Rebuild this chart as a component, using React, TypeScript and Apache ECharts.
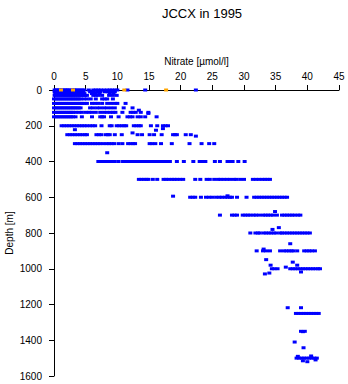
import React, { useEffect, useRef } from "react";
import * as echarts from "echarts";

const titleText = "JCCX in 1995";
const xName = "Nitrate [\u00b5mol/l]";
const yName = "Depth [m]";

// Regular sampling depths (m) and the nitrate values (umol/l) read along each row
const rowDepths = [0, 10, 20, 30, 50, 75, 100, 125, 150, 200, 250, 300, 400, 500, 600, 700, 800, 900, 1000, 1250, 1500];
const rowNitrate: number[][] = [
  [0.1, 0.3, 0.5, 0.8, 1.0, 1.3, 1.5, 1.8, 2.0, 2.2, 2.5, 2.8, 3.1, 3.3, 3.6, 3.9, 4.2, 4.5, 4.8, 5.5, 6.2, 6.6, 7.0, 7.4, 7.9, 8.4, 8.8, 9.2, 9.6, 10.0, 11.6, 14.4, 22.4],
  [0.1, 0.4, 0.7, 1.0, 1.3, 1.6, 1.9, 2.2, 2.5, 2.8, 3.1, 3.4, 3.7, 4.0, 4.3, 4.6, 5.7, 6.2, 6.8, 7.3, 8.0, 8.5, 9.0, 9.6],
  [0.2, 0.5, 0.8, 1.1, 1.4, 1.7, 2.0, 2.3, 2.6, 2.9, 3.2, 3.5, 3.8, 4.1, 4.4, 4.8, 6.0, 6.6, 7.2, 8.8, 9.4],
  [0.1, 0.4, 0.7, 1.0, 1.3, 1.6, 1.9, 2.2, 2.5, 2.8, 3.1, 3.4, 3.7, 4.0, 4.3, 4.6, 4.9, 5.2, 6.2, 6.6, 7.0, 7.6, 8.7, 9.3, 9.9],
  [0.0, 0.3, 0.6, 0.9, 1.2, 1.5, 1.8, 2.1, 2.4, 2.7, 3.0, 3.3, 3.6, 3.9, 4.2, 4.7, 5.2, 5.8, 6.6, 7.6, 8.0, 8.4, 9.3],
  [0.0, 0.3, 0.6, 0.9, 1.2, 1.5, 1.8, 2.1, 2.4, 2.7, 3.0, 3.3, 3.6, 3.9, 4.2, 4.5, 4.8, 5.2, 6.0, 6.5, 7.0, 7.6, 8.4, 9.0, 9.6, 10.0, 11.3],
  [0.0, 0.3, 0.6, 0.9, 1.2, 1.5, 1.8, 2.1, 2.4, 2.7, 3.0, 3.3, 3.6, 3.9, 4.2, 5.7, 6.2, 6.8, 7.3, 7.9, 8.4, 9.0, 9.6, 11.0, 12.4],
  [0.0, 0.3, 0.6, 0.9, 1.2, 1.5, 1.8, 2.1, 2.4, 2.7, 3.0, 3.4, 3.9, 4.4, 5.0, 5.5, 6.0, 6.6, 7.3, 7.9, 8.4, 8.9, 9.3, 9.7, 10.8, 12.1, 12.5, 12.9, 13.7, 14.9],
  [0.0, 0.3, 0.6, 0.9, 1.2, 1.5, 1.8, 2.1, 2.4, 2.7, 3.0, 3.4, 4.4, 6.0, 7.3, 7.6, 7.9, 9.0, 10.2, 11.6, 12.0, 12.4, 13.2, 13.7, 14.4, 16.2],
  [1.2, 1.6, 2.0, 2.4, 2.8, 3.2, 3.6, 4.0, 4.4, 4.8, 5.2, 5.7, 6.1, 6.5, 7.5, 8.8, 9.1, 9.9, 10.3, 10.7, 11.1, 11.4, 12.6, 13.0, 13.4, 13.7, 15.3, 16.3, 17.2, 17.6, 18.0],
  [2.1, 2.5, 2.9, 3.3, 3.7, 4.1, 4.5, 4.9, 5.2, 6.7, 7.1, 7.5, 8.2, 8.5, 8.8, 9.6, 10.7, 13.2, 13.9, 15.1, 15.8, 17.0, 18.8, 19.1, 19.4, 20.8, 21.6],
  [3.3, 3.7, 4.1, 4.5, 4.9, 5.3, 5.7, 6.1, 6.5, 6.9, 7.3, 7.8, 8.3, 8.7, 9.1, 9.5, 10.2, 10.8, 11.7, 12.1, 12.5, 12.8, 15.1, 15.5, 16.0, 16.9, 18.6, 21.4, 23.3, 24.5, 25.3],
  [7.0, 7.4, 7.8, 8.2, 8.6, 9.0, 9.3, 9.6, 10.2, 10.9, 11.3, 11.6, 12.0, 12.4, 12.8, 13.1, 13.5, 13.9, 14.3, 14.6, 15.0, 15.4, 15.8, 16.2, 16.6, 17.0, 17.4, 17.8, 18.3, 19.4, 20.5, 22.0, 23.0, 23.5, 23.9, 25.4, 26.2, 27.4, 27.8, 28.2, 29.1, 30.1],
  [13.4, 13.8, 14.2, 14.6, 14.9, 15.6, 16.3, 17.3, 17.7, 18.1, 18.6, 19.0, 19.4, 19.9, 20.4, 22.3, 23.1, 24.1, 24.6, 25.3, 25.9, 26.3, 26.8, 27.3, 27.8, 28.4, 28.8, 29.4, 30.0, 31.4, 31.9, 32.4, 32.9, 33.3, 33.7, 34.1],
  [21.5, 21.9, 22.3, 23.2, 24.0, 24.5, 25.0, 25.6, 26.1, 26.5, 27.0, 27.4, 27.8, 28.1, 28.9, 30.4, 31.6, 32.0, 32.4, 32.8, 33.2, 33.6, 34.0, 34.4, 34.8, 35.2, 35.6, 36.0, 36.4, 36.8],
  [26.2, 28.1, 28.5, 28.9, 29.8, 30.2, 30.6, 31.0, 31.5, 31.9, 32.4, 33.0, 33.4, 33.8, 34.2, 34.6, 35.2, 36.0, 36.4, 36.8, 37.2, 37.6, 38.0, 38.5, 38.9],
  [31.0, 31.8, 32.2, 32.5, 33.1, 33.5, 33.9, 34.3, 34.7, 35.1, 35.7, 36.0, 36.4, 36.8, 37.2, 37.6, 38.0, 38.4, 38.8, 39.2, 39.6, 40.0, 40.4],
  [32.0, 33.0, 33.5, 34.1, 35.7, 36.3, 36.7, 37.1, 37.5, 37.8, 38.4, 39.5, 39.9, 40.3, 40.7, 41.2],
  [34.4, 34.8, 35.3, 37.3, 37.7, 38.1, 38.5, 38.9, 39.3, 39.7, 40.1, 40.5, 40.9, 41.3, 41.7, 42.0],
  [38.2, 38.6, 39.0, 39.4, 39.8, 40.2, 40.6, 41.0, 41.4, 41.8],
  [38.3, 38.7, 39.1, 39.5, 39.9, 40.3, 40.7, 41.1, 41.5],
];

// Isolated samples off the regular rows: [nitrate, depth]
const extraSamples: [number, number][] = [
  [13.4, 113], [14.9, 131], [3.3, 222], [16.1, 225], [17.2, 216], [12.4, 240], [22.4, 258],
  [8.4, 351], [18.8, 594], [27.4, 592], [34.9, 680], [34.5, 780], [35.5, 770], [37.3, 860],
  [33.1, 890], [33.5, 949], [34.2, 980], [37.7, 963], [36.6, 991], [38.4, 980], [33.3, 1029],
  [34.0, 1024], [39.0, 1018], [36.9, 1218], [39.0, 1218], [39.0, 1350], [39.3, 1352], [39.6, 1350],
  [38.0, 1410], [39.4, 1442], [38.5, 1490], [40.6, 1488], [39.3, 1515], [40.0, 1520], [41.3, 1510],
];

// Highlighted (orange) surface samples: [nitrate, depth]
const orangeSamples: [number, number][] = [[1.1, 0], [3.0, 0], [11.1, 0], [17.7, 0]];

export default function App() {
  const ref = useRef<HTMLDivElement>(null);
  useEffect(() => {
    if (!ref.current) return;
    const chart = echarts.init(ref.current, undefined, { renderer: "svg" });
    const blue: [number, number][] = [];
    rowDepths.forEach((d, i) => rowNitrate[i].forEach((n) => blue.push([n, d])));
    extraSamples.forEach((p) => blue.push(p));
    const font = "'Liberation Sans', Arial, sans-serif";
    chart.setOption({
      animation: false,
      backgroundColor: "#ffffff",
      textStyle: { fontFamily: font },
      title: {
        text: titleText,
        left: 197,
        textAlign: "center",
        top: 2,
        textStyle: { fontSize: 13, fontWeight: "normal", color: "#000", fontFamily: font },
      },
      grid: { left: 54, right: 9, top: 90, bottom: 8, containLabel: false, outerBoundsMode: "none" },
      xAxis: {
        type: "value",
        position: "top",
        min: 0,
        max: 45,
        interval: 5,
        name: xName,
        nameLocation: "middle",
        nameGap: 24,
        nameMoveOverlap: false,
        nameTextStyle: { fontSize: 10, color: "#000", fontFamily: font },
        axisLine: { show: true, onZero: false, lineStyle: { color: "#000", width: 1 } },
        axisTick: { show: true, length: 5, lineStyle: { color: "#000" } },
        axisLabel: { fontSize: 10, color: "#000", margin: 9, fontFamily: font },
        splitLine: { show: false },
      },
      yAxis: {
        type: "value",
        inverse: true,
        min: 0,
        max: 1600,
        interval: 200,
        name: yName,
        nameLocation: "middle",
        nameGap: 40,
        nameMoveOverlap: false,
        nameRotate: 90,
        nameTextStyle: { fontSize: 10, color: "#000", fontFamily: font },
        axisLine: { show: true, onZero: false, lineStyle: { color: "#000", width: 1 } },
        axisTick: { show: true, length: 5, lineStyle: { color: "#000" } },
        axisLabel: { fontSize: 10, color: "#000", margin: 12, fontFamily: font, formatter: (v: number) => String(v) },
        splitLine: { show: false },
      },
      series: [
        {
          type: "scatter",
          data: blue,
          symbol: "rect",
          symbolSize: [4, 3],
          itemStyle: { color: "#0000ff", opacity: 1 },
          silent: true,
        },
        {
          type: "scatter",
          data: orangeSamples,
          symbol: "rect",
          symbolSize: [4, 3],
          itemStyle: { color: "#ffa500", opacity: 1 },
          silent: true,
        },
      ],
    });
    return () => chart.dispose();
  }, []);
  return <div ref={ref} style={{ position: "fixed", left: 0, top: 0, width: 348, height: 384 }} />;
}
